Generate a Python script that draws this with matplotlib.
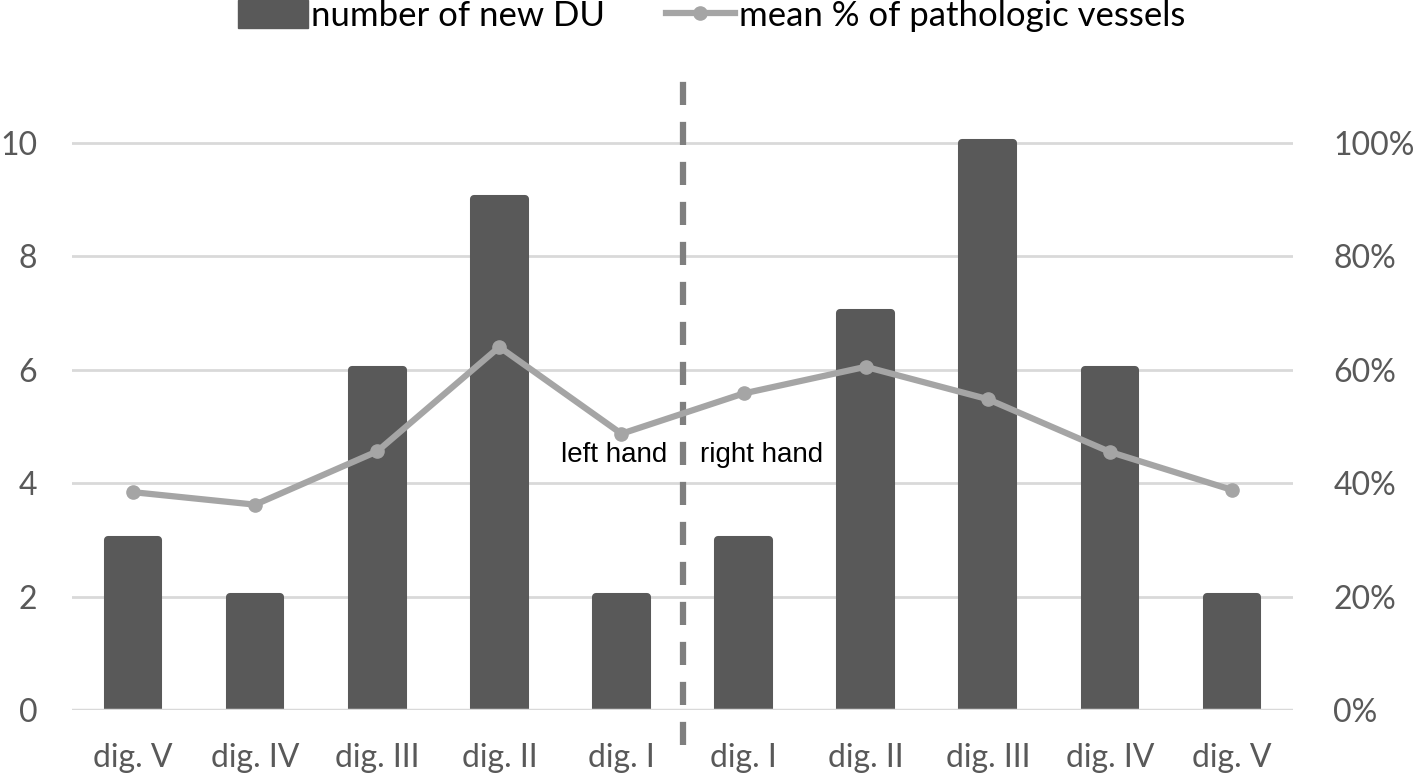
import numpy as np
import matplotlib.pyplot as plt
from matplotlib.lines import Line2D
from matplotlib.patches import Patch

# categories (left hand then right hand)
digits = ['dig. V', 'dig. IV', 'dig. III', 'dig. II', 'dig. I',
          'dig. I', 'dig. II', 'dig. III', 'dig. IV', 'dig. V']
new_du = [3, 2, 6, 9, 2, 3, 7, 10, 6, 2]
patho_pct = [0.384, 0.362, 0.456, 0.640, 0.487, 0.558, 0.605, 0.548, 0.455, 0.388]

bar_color = '#595959'
line_color = '#a5a5a5'
grid_color = '#d9d9d9'
tick_color = '#595959'

plt.rcParams['font.family'] = ['Lato', 'DejaVu Sans']

fig = plt.figure(figsize=(14.18, 7.78), dpi=100)
ax = fig.add_axes([72 / 1418, 1 - 710 / 778, (1293 - 72) / 1418, (710 - 69) / 778])
ax2 = ax.twinx()

x = np.arange(len(digits))
# thick round-joined edge gives the slightly rounded bar tops
ax.bar(x, new_du, width=0.415, color=bar_color, edgecolor=bar_color,
       linewidth=5.8, joinstyle='round', zorder=2)
ax.set_xlim(-0.5, len(digits) - 0.5)
ax.set_ylim(0, 11.3)
ax.set_yticks([0, 2, 4, 6, 8, 10])
ax.set_xticks(x)
ax.set_xticklabels(digits)
for y in [2, 4, 6, 8, 10]:
    ax.axhline(y, color=grid_color, lw=2, zorder=1)
ax.axhline(0, color=grid_color, lw=2.5, zorder=3)

ax2.plot(x, patho_pct, color=line_color, lw=4.5, marker='o', ms=9.5, zorder=4)
ax2.set_ylim(0, 1.13)
ax2.set_yticks([0, 0.2, 0.4, 0.6, 0.8, 1.0])
ax2.set_yticklabels(['0%', '20%', '40%', '60%', '80%', '100%'])

for a in (ax, ax2):
    for s in a.spines.values():
        s.set_visible(False)
    a.tick_params(length=0, labelsize=23, labelcolor=tick_color)
ax.tick_params(axis='y', pad=25)
ax.tick_params(axis='x', pad=24)
ax2.tick_params(axis='y', pad=29)

# hand separator
ax.axvline(4.5, ymin=-0.055, ymax=0.994, color='#7f7f7f', lw=4.5,
           ls=(0, (3.7, 2.7)), clip_on=False, zorder=5)
ax.text(4.373, 4.37, 'left hand', family='Liberation Sans', fontsize=20,
        ha='right', va='baseline')
ax.text(4.643, 4.37, 'right hand', family='Liberation Sans', fontsize=20,
        ha='left', va='baseline')

handles = [Patch(color=bar_color, label='number of new DU'),
           Line2D([], [], color=line_color, lw=4.5, marker='o', ms=9.5,
                  label='mean % of pathologic vessels')]
fig.legend(handles=handles, loc='upper center', bbox_to_anchor=(0.5018, 1.0),
           ncol=2, frameon=False, fontsize=25, handlelength=2.0,
           handleheight=0.85, handletextpad=0.1, columnspacing=1.75,
           borderpad=0, borderaxespad=0)

fig.savefig('out.png', dpi=100)
